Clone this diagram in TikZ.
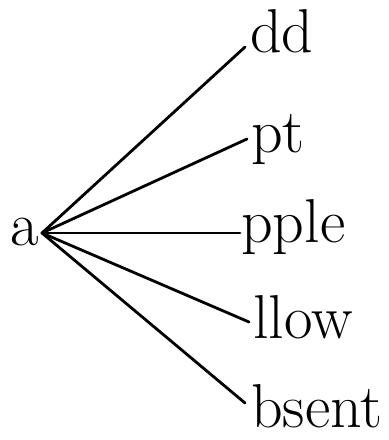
\documentclass[tikz,border=0pt]{standalone}
\usepackage{fontspec}
\begin{document}
\begin{tikzpicture}[x=1pt,y=-1pt,
  word/.style={anchor=base west,inner sep=0pt,font=\fontsize{62}{62}\selectfont},
  branch/.style={line width=2.8pt,line cap=round}]
\useasboundingbox (0,0) rectangle (389,440);
\node[word] (a) at (10,245) {a};
\coordinate (hub) at (42,233);
\node[word] (dd) at (250,52) {dd};
\node[word] (pt) at (251,152) {pt};
\node[word] (pple) at (241,242) {pple};
\node[word] (llow) at (253,338) {llow};
\node[word] (bsent) at (251,427) {bsent};
\coordinate (e1) at (245,47);
\coordinate (e2) at (247,139);
\coordinate (e3) at (240,233);
\coordinate (e4) at (249,322);
\coordinate (e5) at (245,403);
\foreach \e in {e1,e2,e3,e4,e5}{\draw[branch] (hub) -- (\e);}
\end{tikzpicture}
\end{document}
